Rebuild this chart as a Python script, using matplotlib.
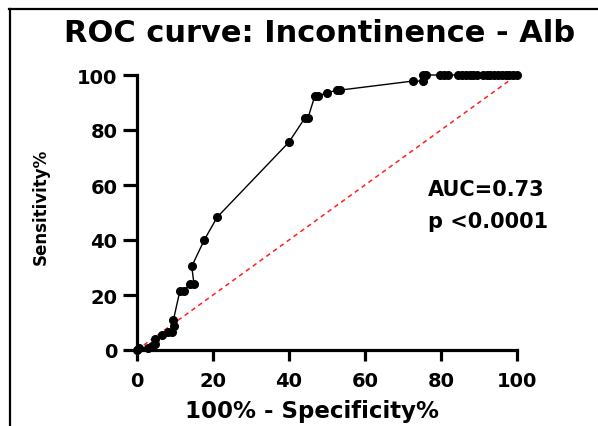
import matplotlib
matplotlib.use("Agg")
import matplotlib.pyplot as plt
from matplotlib.lines import Line2D

# ROC points (100% - specificity, sensitivity)
fpr = [0, 0.6, 2.9, 4.0, 4.7, 4.7, 6.5, 8.2, 9.1, 9.7, 9.6, 11.3, 12.3, 13.9,
       15.0, 14.4, 17.7, 21.1, 40.0, 44.2, 45.0, 46.8, 47.6, 50.0, 52.6, 53.4,
       72.6, 75.3, 75.3, 76.0, 79.7, 80.8, 81.8, 84.5, 85.5, 86.5, 87.5, 88.5,
       89.5, 91.0, 92.0, 93.0, 94.0, 95.0, 96.0, 97.0, 98.0, 99.0, 100.0]
tpr = [0, 0.6, 0.6, 1.5, 2.2, 4.0, 5.5, 6.4, 6.4, 8.6, 11.0, 21.6, 21.6, 24.0,
       24.0, 30.4, 40.0, 48.3, 75.6, 84.4, 84.4, 92.4, 92.4, 93.5, 94.5, 94.5,
       97.8, 97.8, 100, 100, 100, 100, 100, 100, 100, 100, 100, 100,
       100, 100, 100, 100, 100, 100, 100, 100, 100, 100, 100]
ref_line = [0, 100]
ticks = [0, 20, 40, 60, 80, 100]
auc_label = "AUC=0.73"
p_label = "p <0.0001"

plt.rcParams['font.family'] = ['DejaVu Sans']
plt.rcParams['font.weight'] = 'bold'

fig = plt.figure(figsize=(5.98, 4.27), dpi=100)
ax = fig.add_axes([137/598, 1 - 351/427, 380/598, 275/427])

ax.plot(ref_line, ref_line, color='#ff2020', linestyle=(0, (3, 2.5)), linewidth=1.1)
ax.plot(fpr, tpr, color='black', linewidth=1.0, marker='o', markersize=5.5,
        clip_on=False, zorder=3)

ax.set_xlim(0, 100)
ax.set_ylim(0, 100)
ax.set_xticks(ticks)
ax.set_yticks(ticks)
for side in ['top', 'right']:
    ax.spines[side].set_visible(False)
for side in ['left', 'bottom']:
    ax.spines[side].set_linewidth(2.3)
ax.tick_params(axis='x', width=2.3, length=8, labelsize=14, pad=7)
ax.tick_params(axis='y', width=2.3, length=10, labelsize=14, pad=4)
for lab in ax.get_xticklabels() + ax.get_yticklabels():
    lab.set_fontweight('bold')

ax.set_xlabel("100% - Specificity%", fontsize=16.5, fontweight='bold', va='baseline')
ax.xaxis.set_label_coords(0.46, -0.245)
ax.set_ylabel("Sensitivity%", fontsize=12, fontweight='bold')
ax.yaxis.set_label_coords(-0.229, 0.524)

fig.text(320/598, 1 - 33/427, "ROC curve: Incontinence - Alb", fontsize=22,
         fontweight='bold', ha='center', va='center')
fig.text(428/598, 1 - 190/427, auc_label, fontsize=15, fontweight='bold',
         ha='left', va='center')
fig.text(428/598, 1 - 222/427, p_label, fontsize=15, fontweight='bold',
         ha='left', va='center')

# frame lines of the original screenshot
fig.add_artist(Line2D([9/598, 1], [1 - 10/427, 1 - 10/427], color='black', linewidth=1.6))
fig.add_artist(Line2D([10/598, 10/598], [0, 1 - 10/427], color='black', linewidth=1.6))

fig.savefig("out.png", dpi=100)
